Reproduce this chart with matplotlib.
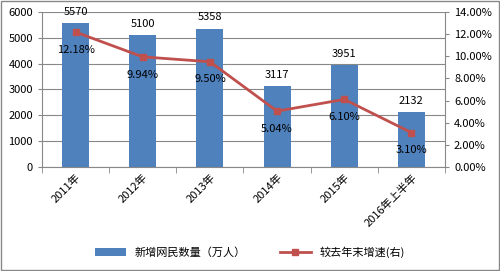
import matplotlib.pyplot as plt
import numpy as np
from matplotlib.ticker import FuncFormatter

plt.rcParams['font.family'] = ['Noto Sans CJK SC', 'DejaVu Sans']

years = ['2011年', '2012年', '2013年', '2014年', '2015年', '2016年上半年']
new_users = [5570, 5100, 5358, 3117, 3951, 2132]
growth = [12.18, 9.94, 9.50, 5.04, 6.10, 3.10]

bar_color = '#4f81bd'
line_color = '#c0504d'
fs = 8

fig = plt.figure(figsize=(5, 2.71), dpi=100)
ax = fig.add_axes([0.084, 0.384, 0.806, 0.572])
ax2 = ax.twinx()

x = np.arange(len(years))
ax.bar(x, new_users, width=0.4, color=bar_color, zorder=2, label='新增网民数量（万人）')
for xi, v in zip(x, new_users):
    ax.text(xi, v + 430, str(v), ha='center', va='center', fontsize=fs)

ax2.plot(x, growth, color=line_color, lw=2, marker='s', ms=5, zorder=3,
         label='较去年末增速(右)')
for xi, g in zip(x, growth):
    ax2.text(xi, g - 1.6, f'{g:.2f}%', ha='center', va='center', fontsize=fs)

ax.set_xlim(-0.5, len(years) - 0.5)
ax.set_ylim(0, 6000)
ax.set_yticks(range(0, 6001, 1000))
ax2.set_ylim(0, 14)
ax2.set_yticks(range(0, 15, 2))
ax2.yaxis.set_major_formatter(FuncFormatter(lambda v, p: f'{v:.2f}%'))

ax.grid(axis='y', color='#888888', lw=0.8, zorder=0)
ax.set_axisbelow(True)

ax.set_xticks(x)
ax.set_xticklabels(years, rotation=45, ha='right', rotation_mode='anchor', fontsize=fs)
ax.tick_params(axis='x', length=0, pad=4)
ax.set_xticks(np.arange(-0.5, len(years)), minor=True)
ax.tick_params(axis='x', which='minor', length=4, color='#888888')
ax.tick_params(axis='y', labelsize=fs, length=3, color='#888888')
ax2.tick_params(axis='y', labelsize=fs, length=3, color='#888888')

for a in (ax, ax2):
    a.spines['top'].set_visible(False)
    for s in ('left', 'right', 'bottom'):
        a.spines[s].set_color('#888888')
ax.spines['right'].set_visible(False)
ax2.spines['left'].set_visible(False)
ax2.spines['bottom'].set_visible(False)

h1, l1 = ax.get_legend_handles_labels()
h2, l2 = ax2.get_legend_handles_labels()
fig.legend(h1 + h2, l1 + l2, loc='center', bbox_to_anchor=(0.5, 0.07), ncol=2,
           frameon=False, fontsize=fs, handlelength=2.8, columnspacing=3)

fig.patches.append(plt.Rectangle((0.002, 0.004), 0.996, 0.992, transform=fig.transFigure,
                                 fill=False, edgecolor='#888888', lw=1))

fig.savefig('out.png', dpi=100)
